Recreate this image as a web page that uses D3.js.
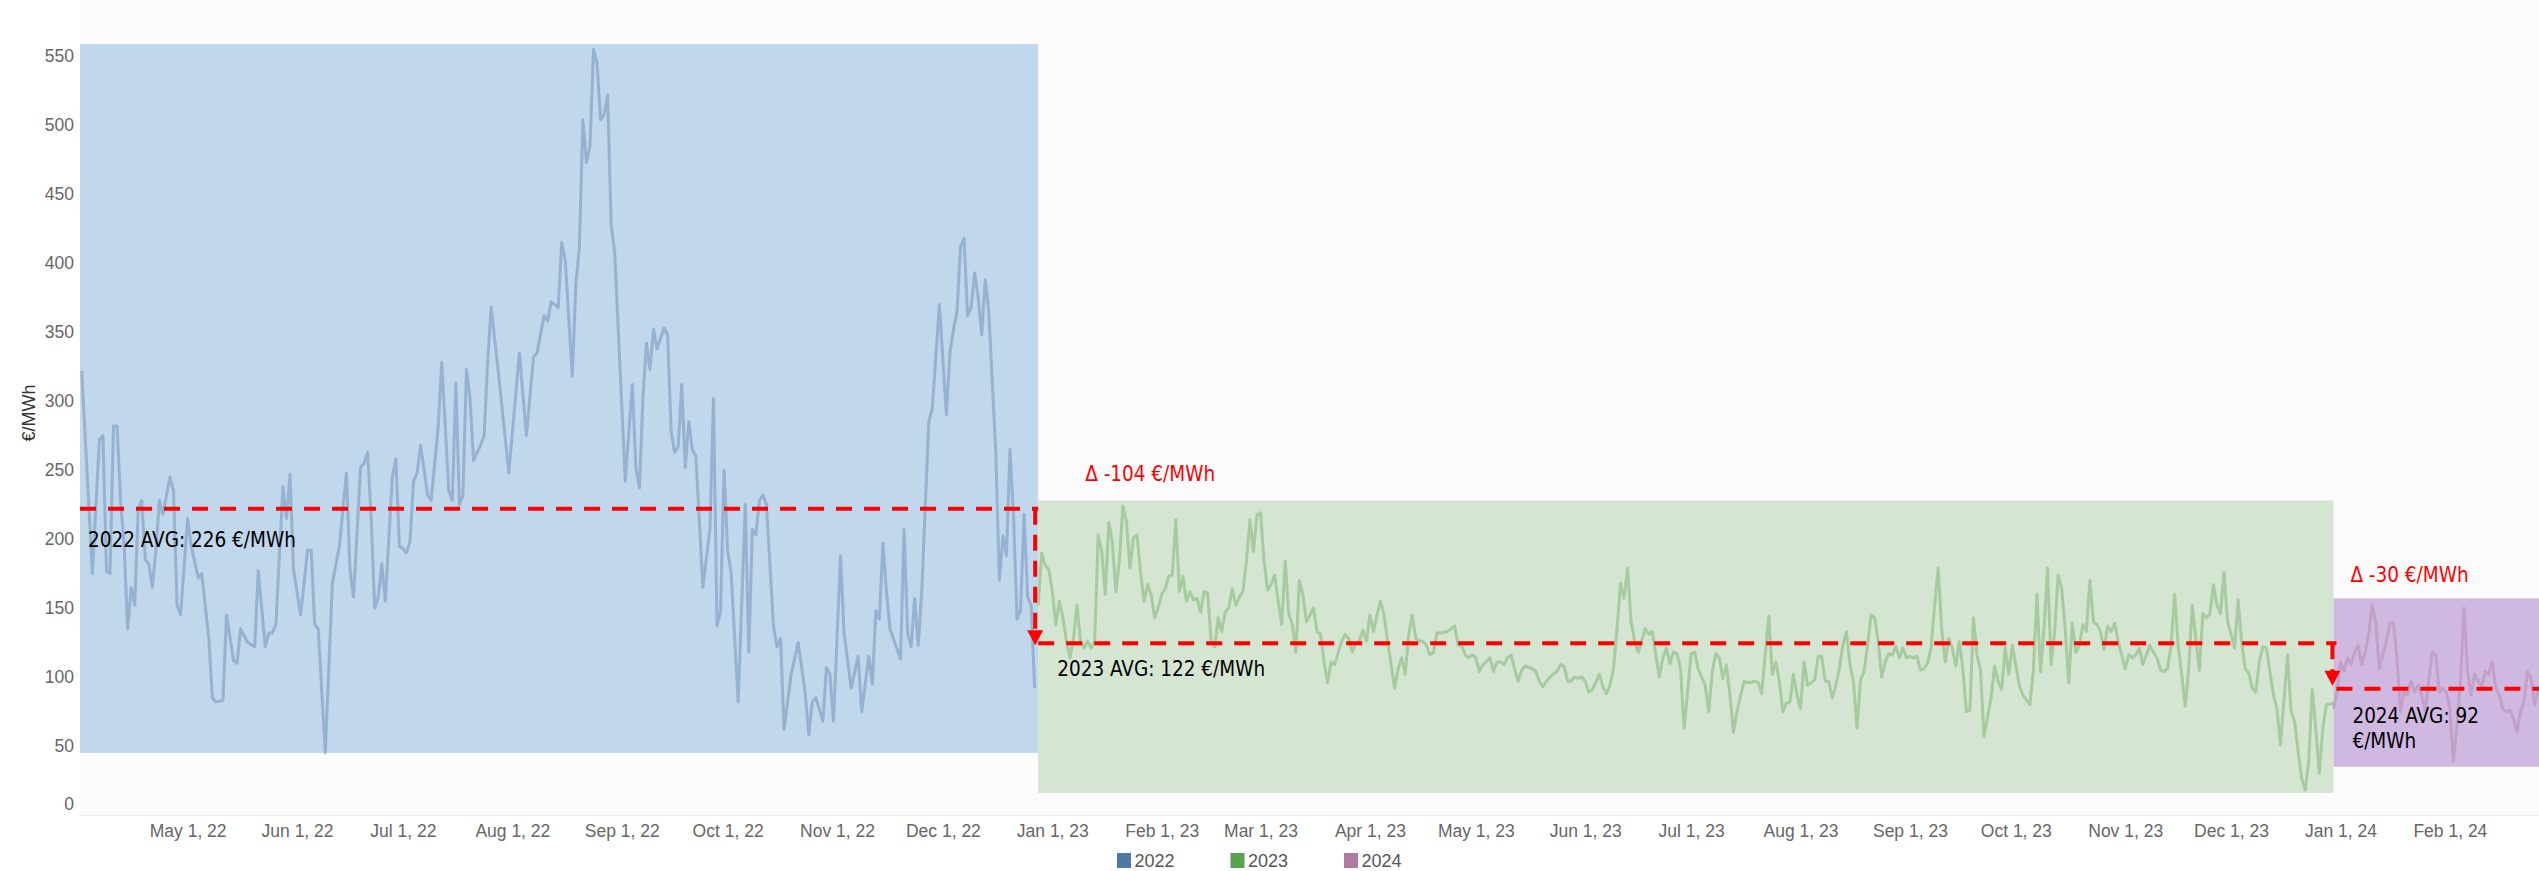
<!DOCTYPE html>
<html>
<head>
<meta charset="utf-8">
<script src="https://cdn.jsdelivr.net/npm/d3@7"></script>
<style>
  html, body { margin: 0; padding: 0; background: #fff; }
  svg { display: block; }
</style>
</head>
<body>
<script>
const width = 2539;
const height = 871;

// daily spot prices (EUR/MWh), day numbers counted from each series start
const seriesStart = ["2022-04-01", "2023-01-01", "2024-01-01"];

const days2022 = [
  0, 3, 5, 6, 7, 8, 9, 10, 11, 12,
  13, 14, 15, 16, 17, 18, 19, 20, 21, 22,
  23, 25, 26, 27, 28, 30, 31, 33, 34, 36,
  37, 38, 40, 41, 43, 44, 45, 47, 49, 50,
  52, 53, 54, 55, 57, 58, 59, 60, 62, 64,
  65, 66, 67, 69, 71, 73, 75, 76, 77, 79,
  80, 81, 82, 83, 84, 85, 86, 88, 89, 90,
  91, 92, 93, 94, 95, 96, 98, 99, 101, 102,
  104, 105, 106, 107, 108, 109, 110, 111, 113, 114,
  115, 116, 118, 121, 124, 126, 128, 129, 131, 132,
  133, 135, 136, 137, 139, 140, 141, 142, 143, 144,
  145, 146, 147, 148, 149, 150, 151, 154, 156, 157,
  158, 159, 160, 161, 162, 163, 165, 166, 167, 168,
  169, 170, 171, 172, 173, 174, 176, 178, 179, 180,
  181, 182, 183, 184, 186, 188, 189, 190, 191, 192,
  193, 194, 196, 197, 198, 199, 201, 203, 205, 206,
  207, 208, 210, 211, 212, 213, 215, 216, 218, 220,
  221, 223, 224, 225, 226, 227, 228, 229, 232, 233,
  234, 235, 236, 237, 238, 240, 241, 243, 245, 246,
  247, 248, 249, 250, 251, 252, 253, 254, 255, 256,
  257, 259, 260, 261, 262, 263, 264, 265, 266, 267,
  268, 269, 270
];
const price2022 = [
  322, 175, 272, 275, 177, 175, 282, 282, 228, 195,
  135, 165, 152, 222, 228, 185, 182, 165, 192, 228,
  218, 245, 235, 152, 145, 215, 195, 172, 175, 128,
  85, 82, 83, 145, 112, 110, 135, 125, 122, 177,
  122, 132, 132, 138, 238, 215, 247, 178, 145, 192,
  192, 138, 135, 45, 168, 195, 248, 178, 158, 252,
  255, 263, 215, 150, 158, 182, 155, 245, 258, 195,
  193, 190, 198, 242, 248, 268, 232, 228, 282, 328,
  235, 228, 313, 225, 232, 323, 302, 257, 268, 275,
  328, 368, 322, 248, 335, 275, 332, 335, 362, 358,
  372, 368, 415, 402, 318, 385, 412, 504, 473, 485,
  555, 545, 504, 508, 522, 428, 408, 242, 312, 252,
  237, 302, 342, 323, 352, 338, 353, 348, 278, 263,
  267, 312, 252, 285, 265, 260, 165, 208, 302, 137,
  148, 250, 192, 175, 82, 225, 118, 207, 203, 228,
  232, 225, 137, 122, 128, 62, 102, 125, 88, 58,
  82, 85, 68, 107, 102, 68, 188, 132, 92, 115,
  75, 115, 95, 148, 142, 197, 162, 135, 113, 207,
  132, 122, 157, 123, 162, 285, 295, 370, 290, 335,
  352, 365, 412, 418, 362, 368, 393, 375, 348, 388,
  365, 262, 170, 202, 188, 265, 218, 142, 148, 218,
  158, 152, 92
];

const days2023 = [
  -4, -3, -2, -1, 0, 1, 2, 3, 4, 5,
  6, 7, 8, 9, 10, 11, 12, 13, 14, 15,
  16, 17, 18, 19, 20, 21, 22, 23, 24, 25,
  26, 27, 28, 29, 30, 31, 32, 33, 34, 35,
  36, 37, 38, 39, 40, 41, 42, 43, 44, 45,
  46, 47, 48, 49, 50, 51, 52, 53, 54, 55,
  56, 57, 58, 59, 60, 61, 62, 63, 64, 65,
  66, 67, 68, 69, 70, 71, 72, 73, 74, 75,
  76, 77, 78, 79, 80, 82, 83, 84, 85, 86,
  87, 88, 89, 90, 91, 92, 93, 94, 95, 96,
  97, 98, 99, 100, 101, 102, 103, 104, 105, 106,
  107, 108, 109, 110, 112, 113, 114, 115, 116, 117,
  118, 119, 120, 121, 122, 123, 124, 125, 126, 127,
  128, 129, 130, 131, 132, 133, 134, 135, 136, 137,
  138, 139, 140, 141, 142, 143, 144, 145, 146, 147,
  148, 149, 150, 151, 152, 153, 154, 155, 156, 157,
  158, 159, 160, 161, 162, 163, 164, 165, 166, 167,
  168, 169, 170, 171, 172, 173, 174, 175, 176, 177,
  178, 179, 180, 181, 182, 183, 184, 185, 186, 187,
  188, 189, 190, 191, 192, 193, 194, 196, 197, 198,
  199, 200, 201, 202, 203, 204, 205, 206, 207, 208,
  209, 210, 211, 212, 213, 214, 215, 216, 217, 218,
  219, 220, 221, 222, 223, 224, 225, 226, 227, 228,
  229, 230, 231, 232, 233, 234, 235, 236, 237, 238,
  239, 240, 241, 242, 243, 244, 245, 246, 247, 248,
  249, 250, 251, 252, 253, 254, 255, 256, 257, 258,
  259, 260, 261, 262, 263, 264, 266, 267, 268, 269,
  270, 271, 272, 274, 275, 277, 278, 279, 280, 281,
  282, 283, 284, 285, 286, 287, 288, 289, 290, 291,
  292, 293, 294, 295, 296, 297, 298, 299, 300, 301,
  302, 303, 304, 305, 306, 307, 308, 309, 310, 311,
  312, 313, 314, 315, 316, 317, 318, 319, 320, 321,
  322, 323, 324, 325, 326, 327, 328, 329, 330, 331,
  332, 333, 334, 335, 336, 337, 338, 339, 340, 341,
  342, 343, 344, 345, 346, 347, 348, 350, 351, 352,
  353, 354, 355, 356, 357, 358, 359, 360, 361, 363
];
const price2023 = [
  152, 190, 181, 178, 162, 138, 155, 143, 126, 114,
  128, 152, 126, 121, 126, 121, 126, 203, 191, 160,
  212, 198, 162, 184, 224, 213, 179, 201, 203, 176,
  155, 167, 160, 143, 150, 160, 164, 173, 174, 214,
  162, 173, 155, 162, 156, 157, 147, 162, 161, 126,
  122, 143, 133, 147, 150, 164, 152, 158, 162, 184,
  214, 191, 218, 219, 184, 163, 167, 174, 155, 138,
  184, 146, 138, 118, 170, 160, 140, 145, 150, 133,
  131, 111, 96, 111, 109, 126, 131, 128, 118, 125,
  126, 134, 126, 145, 133, 145, 155, 145, 126, 109,
  92, 106, 114, 102, 131, 145, 128, 126, 126, 123,
  116, 118, 132, 132, 133, 135, 137, 123, 123, 116,
  114, 116, 114, 104, 109, 111, 114, 104, 111, 111,
  109, 114, 116, 106, 97, 105, 108, 107, 106, 104,
  97, 93, 97, 100, 102, 104, 109, 108, 97, 97,
  100, 99, 100, 97, 89, 91, 96, 102, 93, 88,
  94, 106, 135, 168, 157, 179, 140, 126, 118, 126,
  135, 131, 133, 116, 100, 114, 121, 110, 118, 117,
  106, 63, 89, 117, 118, 106, 100, 94, 75, 104,
  117, 114, 99, 109, 87, 60, 75, 97, 96, 96,
  97, 96, 88, 116, 144, 102, 111, 97, 75, 81,
  82, 102, 87, 77, 111, 94, 96, 98, 115, 115,
  97, 97, 85, 94, 106, 123, 133, 109, 97, 63,
  98, 104, 123, 145, 143, 126, 100, 111, 117, 116,
  122, 114, 121, 114, 115, 114, 115, 105, 106, 110,
  121, 152, 179, 135, 111, 128, 121, 108, 126, 106,
  75, 76, 143, 116, 105, 57, 85, 108, 97, 91,
  121, 102, 123, 94, 87, 80, 106, 160, 104, 135,
  179, 109, 133, 174, 164, 135, 96, 139, 118, 123,
  138, 133, 170, 140, 138, 133, 120, 137, 133, 139,
  126, 116, 106, 116, 114, 116, 121, 109, 116, 123,
  118, 114, 105, 104, 106, 123, 160, 123, 102, 79,
  106, 152, 128, 105, 146, 143, 146, 167, 152, 146,
  176, 140, 131, 121, 156, 125, 106, 103, 92, 89,
  111, 122, 121, 104, 87, 77, 51, 116, 75, 68,
  46, 27, 18, 39, 91, 63, 30, 63, 80, 81
];

const days2024 = [
  -2, -1, 0, 1, 2, 3, 4, 5, 6, 7,
  8, 9, 10, 11, 12, 13, 14, 15, 16, 17,
  18, 19, 20, 21, 22, 23, 24, 25, 26, 27,
  28, 29, 30, 31, 32, 33, 34, 35, 36, 37,
  38, 39, 40, 41, 42, 43, 44, 45, 46, 47,
  48, 49, 50, 51, 52, 53, 54, 55, 56, 57
];
const price2024 = [
  77, 89, 111, 104, 114, 109, 118, 123, 109, 118,
  131, 152, 140, 106, 116, 126, 139, 139, 114, 75,
  89, 87, 97, 89, 94, 87, 75, 97, 118, 116,
  89, 92, 89, 77, 39, 65, 97, 150, 104, 87,
  102, 97, 93, 104, 102, 111, 92, 87, 77, 75,
  76, 70, 60, 75, 82, 104, 99, 80, 92, 82
];

const years = ["2022", "2023", "2024"];
const yearColors = ["#4e79a7", "#59a14f", "#b07aa1"];
const bandColors = ["#c1d7eb", "#d4e6d1", "#cfb9e0"];
const bandFrom = ["2022-03-31", "2022-12-28", "2023-12-30"];
const bandTo = ["2022-12-28", "2023-12-30", "2024-03-01"];
const bandLow = [45, 16, 35];
const bandHigh = [559, 228, 157];
const avgLevel = [222, 124.5, 91.5];
const avgText = [["2022 AVG: 226 €/MWh"], ["2023 AVG: 122 €/MWh"], ["2024 AVG: 92", "€/MWh"]];
const deltaText = ["Δ -104 €/MWh", "Δ -30 €/MWh"];
const yTicks = [0, 50, 100, 150, 200, 250, 300, 350, 400, 450, 500, 550];

const parseDay = d3.timeParse("%Y-%m-%d");
const parseTime = d3.timeParse("%Y-%m-%d %H:%M");

const dayLists = [days2022, days2023, days2024];
const priceLists = [price2022, price2023, price2024];
const series = years.map((yr, i) => ({
  year: yr,
  points: dayLists[i].map((n, j) => ({
    date: d3.timeDay.offset(parseDay(seriesStart[i]), n),
    price: priceLists[i][j]
  }))
}));

const left = 80, right = width, bottom = 815;

const x = d3.scaleTime()
  .domain([parseTime("2022-03-31 12:00"), parseTime("2024-02-26 06:00")])
  .range([left, right]);

const y = d3.scaleLinear()
  .domain([0, 550])
  .range([bottom, 56.3]);

const svg = d3.select("body")
  .append("svg")
  .attr("width", width)
  .attr("height", height);

svg.append("rect")
  .attr("x", left).attr("y", 0)
  .attr("width", right - left).attr("height", bottom)
  .attr("fill", "#fbfbfb");

svg.append("clipPath")
  .attr("id", "plot")
  .append("rect")
  .attr("x", left).attr("y", 0)
  .attr("width", right - left).attr("height", bottom);

const plot = svg.append("g").attr("clip-path", "url(#plot)");

// one shaded box per year
const bx0 = bandFrom.map(d => Math.max(left, x(parseDay(d))));
const bx1 = bandTo.map(d => x(parseDay(d)));

plot.selectAll("rect.band")
  .data(years)
  .join("rect")
  .attr("class", "band")
  .attr("x", (d, i) => bx0[i])
  .attr("width", (d, i) => bx1[i] - bx0[i])
  .attr("y", (d, i) => y(bandHigh[i]))
  .attr("height", (d, i) => y(bandLow[i]) - y(bandHigh[i]))
  .attr("fill", (d, i) => bandColors[i]);

const line = d3.line()
  .x(d => x(d.date))
  .y(d => y(d.price));

plot.selectAll("path.price")
  .data(series)
  .join("path")
  .attr("class", "price")
  .attr("d", d => line(d.points))
  .attr("fill", "none")
  .attr("stroke", (d, i) => yearColors[i])
  .attr("stroke-opacity", 0.38)
  .attr("stroke-width", 3)
  .attr("stroke-linejoin", "round");

// axes
const monthTicks = d3.timeMonth.range(parseDay("2022-05-01"), parseDay("2024-02-02"));

const gx = svg.append("g")
  .attr("transform", `translate(0,${bottom})`)
  .call(d3.axisBottom(x)
    .tickValues(monthTicks)
    .tickFormat(d3.timeFormat("%b %-d, %y"))
    .tickSize(0)
    .tickSizeOuter(0)
    .tickPadding(10));
gx.select(".domain").attr("stroke", "#ececec");
gx.selectAll("text")
  .attr("font-family", "'Liberation Sans', Arial, sans-serif")
  .attr("font-size", 17.5)
  .attr("fill", "#666");

const gy = svg.append("g")
  .attr("transform", `translate(${left},0)`)
  .call(d3.axisLeft(y)
    .tickValues(yTicks)
    .tickSize(0)
    .tickPadding(6));
gy.select(".domain").remove();
gy.selectAll("text")
  .attr("font-family", "'Liberation Sans', Arial, sans-serif")
  .attr("font-size", 17.5)
  .attr("fill", "#666");
gy.selectAll(".tick").filter(d => d === 0).select("text").attr("y", -11);

svg.append("text")
  .attr("transform", "translate(35,413) rotate(-90)")
  .attr("text-anchor", "middle")
  .attr("font-family", "'Liberation Sans', Arial, sans-serif")
  .attr("font-size", 18)
  .attr("fill", "#333")
  .text("€/MWh");

// average lines and drops
const red = "#ff0000";
const ann = svg.append("g").attr("clip-path", "url(#plot)");
const avgY = avgLevel.map(v => y(v));
const avgSpan = [[left, bx1[0]], [bx0[1], bx1[1] + 3], [bx0[2] + 3, right]];

ann.selectAll("line.avg")
  .data(avgLevel)
  .join("line")
  .attr("class", "avg")
  .attr("x1", (d, i) => avgSpan[i][0])
  .attr("x2", (d, i) => avgSpan[i][1])
  .attr("y1", (d, i) => avgY[i])
  .attr("y2", (d, i) => avgY[i])
  .attr("stroke", red)
  .attr("stroke-width", 4)
  .attr("stroke-dasharray", "16,12");

const drops = [
  { x: bx1[0] - 3, from: avgY[0], tip: avgY[1] + 2 },
  { x: bx1[1] - 1, from: avgY[1], tip: avgY[2] - 3 }
];

ann.selectAll("line.drop")
  .data(drops)
  .join("line")
  .attr("class", "drop")
  .attr("x1", d => d.x).attr("x2", d => d.x)
  .attr("y1", d => d.from).attr("y2", d => d.tip - 14)
  .attr("stroke", red)
  .attr("stroke-width", 4)
  .attr("stroke-dasharray", "16,10");

ann.selectAll("path.arrow")
  .data(drops)
  .join("path")
  .attr("class", "arrow")
  .attr("d", d => `M${d.x - 8},${d.tip - 15}L${d.x + 8},${d.tip - 15}L${d.x},${d.tip}Z`)
  .attr("fill", red);

const annFont = "'DejaVu Sans Condensed', 'Liberation Sans', sans-serif";
const labelPos = [
  { x: left + 8, y: avgY[0] + 38 },
  { x: bx0[1] + 19, y: avgY[1] + 33 },
  { x: bx0[2] + 19, y: avgY[2] + 34 }
];

avgText.forEach((lines, i) => {
  const t = svg.append("text")
    .attr("x", labelPos[i].x)
    .attr("y", labelPos[i].y)
    .attr("font-family", annFont)
    .attr("font-size", 20.5)
    .attr("fill", "#000");
  lines.forEach((s, k) => {
    t.append("tspan")
      .attr("x", labelPos[i].x)
      .attr("dy", k === 0 ? 0 : 25)
      .text(s);
  });
});

const deltaPos = [
  { x: bx0[1] + 47, y: y(bandHigh[1]) - 19 },
  { x: bx0[2] + 17, y: y(bandHigh[2]) - 16 }
];

svg.selectAll("text.delta")
  .data(deltaText)
  .join("text")
  .attr("class", "delta")
  .attr("x", (d, i) => deltaPos[i].x)
  .attr("y", (d, i) => deltaPos[i].y)
  .attr("font-family", annFont)
  .attr("font-size", 20.5)
  .attr("fill", red)
  .text(d => d);

// legend
const legend = svg.append("g")
  .selectAll("g")
  .data(years)
  .join("g")
  .attr("transform", (d, i) => `translate(${1117 + i * 113.5},853)`);

legend.append("rect")
  .attr("width", 14)
  .attr("height", 15)
  .attr("fill", (d, i) => yearColors[i]);

legend.append("text")
  .attr("x", 17.5)
  .attr("y", 14)
  .attr("font-family", "'Liberation Sans', Arial, sans-serif")
  .attr("font-size", 18)
  .attr("fill", "#555")
  .text(d => d);
</script>
</body>
</html>
